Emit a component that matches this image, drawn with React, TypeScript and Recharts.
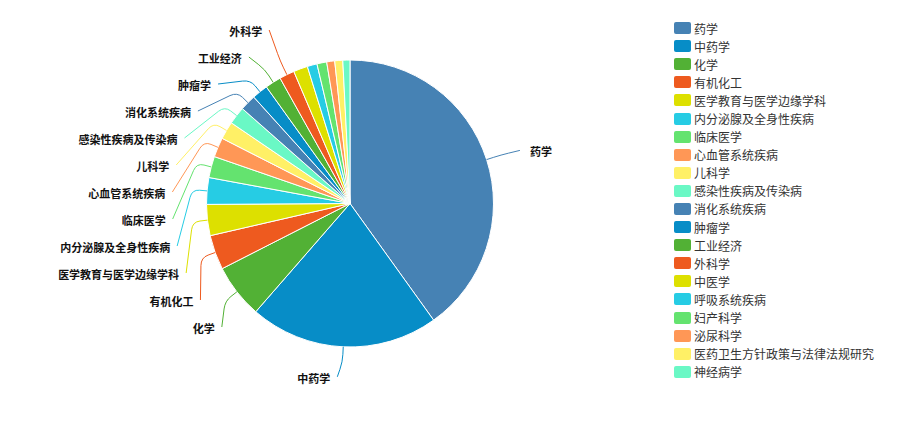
import { PieChart, Pie, Cell, Legend } from "recharts";

const subjects = [
    "药学", "中药学", "化学", "有机化工", "医学教育与医学边缘学科",
    "内分泌腺及全身性疾病", "临床医学", "心血管系统疾病", "儿科学", "感染性疾病及传染病",
    "消化系统疾病", "肿瘤学", "工业经济", "外科学", "中医学",
    "呼吸系统疾病", "妇产科学", "泌尿科学", "医药卫生方针政策与法律法规研究", "神经病学",
];
const counts = [401, 213, 61, 39, 35, 30, 24, 22, 20, 20, 18, 18, 18, 17, 16, 11, 11, 9, 9, 8];
const palette = ["#4682b4", "#078dc7", "#52b135", "#ee5a1f", "#dde000", "#26cce4", "#64e36f", "#ff9756", "#fff066", "#6af8c5"];

const data = subjects.map((name, i) => ({ name, value: counts[i] }));

const FONT = "'Noto Sans CJK SC', 'Noto Sans', sans-serif";
const CX = 350;
const CY = 203.5;
const OUTER = 143.5;
const LINE_LEN = 15;      // first leg of the label line
const LABEL_LEN = 30;     // ring where labels sit naturally
const LABEL_LEN2 = 4.5;
const LABEL_GAP = 27;
const LABEL_TOP = 30;
const MIN_LABEL_ANGLE = 6;
const RAD = Math.PI / 180;

type Placed = { show: boolean; side: number; nx: number; x: number; y: number };

// echarts-like label placement: stack crowded labels, then slide them along a ring
function layoutLabels(): Placed[] {
    const total = counts.reduce((a, b) => a + b, 0);
    const ring = OUTER + LABEL_LEN;
    let acc = 0;
    const items: Placed[] = counts.map((v) => {
        const sweep = (v / total) * 360;
        const mid = ((acc + v / 2) / total) * 360;
        acc += v;
        const s = Math.sin(mid * RAD);
        const c = Math.cos(mid * RAD);
        return { show: sweep >= MIN_LABEL_ANGLE, side: s < 0 ? -1 : 1, nx: CX + ring * s, x: 0, y: CY - ring * c };
    });
    for (const side of [-1, 1]) {
        const all = items.filter((it) => it.side === side);
        const list = all.filter((it) => it.show).sort((a, b) => a.y - b.y);
        const crowded = list.length < all.length;
        let last = -Infinity;
        list.forEach((it, k) => {
            it.y = k === 0 && crowded ? LABEL_TOP : Math.max(it.y, last + LABEL_GAP);
            last = it.y;
            const dy = Math.abs(it.y - CY);
            const arc = ring + LABEL_LEN2;
            const dx = dy < OUTER + LINE_LEN
                ? Math.sqrt(arc * arc - dy * dy)
                : Math.abs(it.nx - CX) + LABEL_LEN2;
            it.x = CX + side * dx;
        });
    }
    return items;
}

const placed = layoutLabels();

const polar = (cx: number, cy: number, r: number, angle: number) => ({
    x: cx + r * Math.cos(-angle * RAD),
    y: cy + r * Math.sin(-angle * RAD),
});

const toward = (from: { x: number; y: number }, to: { x: number; y: number }, d: number) => {
    const len = Math.hypot(to.x - from.x, to.y - from.y) || 1;
    const k = Math.min(d, len * 0.5) / len;
    return { x: from.x + (to.x - from.x) * k, y: from.y + (to.y - from.y) * k };
};

const renderLabel = (props: any) => {
    const { index, cx, cy, midAngle, outerRadius } = props;
    const p = placed[index];
    if (!p || !p.show) return null;
    const color = palette[index % palette.length];
    const p0 = polar(cx, cy, outerRadius, midAngle);
    const p1 = polar(cx, cy, outerRadius + LINE_LEN, midAngle);
    const p2 = { x: p.x, y: p.y };
    const a = toward(p1, p0, 8);
    const b = toward(p1, p2, 8);
    const d = `M${p0.x},${p0.y}L${a.x},${a.y}Q${p1.x},${p1.y} ${b.x},${b.y}L${p2.x},${p2.y}`;
    const left = p.side < 0;
    return (
        <g>
            <path d={d} stroke={color} strokeWidth={1} fill="none" />
            <text
                x={left ? p2.x - 7 : p2.x + 10}
                y={p2.y + 1}
                textAnchor={left ? "end" : "start"}
                dominantBaseline="central"
                fontSize={11}
                fontWeight="bold"
                fontFamily={FONT}
                fill="#111"
            >
                {props.name}
            </text>
        </g>
    );
};

const LegendList = ({ payload }: any) => (
    <ul style={{ listStyle: "none", margin: 0, padding: 0 }}>
        {(payload ?? []).map((entry: any) => {
            const i = subjects.indexOf(entry.value);
            return (
                <li key={entry.value} style={{ display: "flex", alignItems: "center", height: 18.1 }}>
                    <span style={{ display: "inline-block", width: 17, height: 12, borderRadius: 2, background: palette[i % palette.length] }} />
                    <span style={{ marginLeft: 3, fontSize: 12, fontFamily: FONT, color: "#333", whiteSpace: "nowrap" }}>{entry.value}</span>
                </li>
            );
        })}
    </ul>
);

export default function App() {
    return (
        <div style={{ position: "absolute", left: 0, top: 0, width: 899, height: 421, background: "#fff" }}>
            <PieChart width={899} height={421} margin={{ top: 0, right: 0, bottom: 0, left: 0 }}>
                <Pie
                    data={data}
                    dataKey="value"
                    nameKey="name"
                    cx={CX}
                    cy={CY}
                    outerRadius={OUTER}
                    startAngle={90}
                    endAngle={-270}
                    stroke="#fff"
                    strokeWidth={1}
                    label={renderLabel}
                    labelLine={false}
                    isAnimationActive={false}
                >
                    {data.map((_, i) => (
                        <Cell key={i} fill={palette[i % palette.length]} />
                    ))}
                </Pie>
                <Legend
                    layout="vertical"
                    align="right"
                    verticalAlign="top"
                    itemSorter={(item: any) => subjects.indexOf(item.value)}
                    content={<LegendList />}
                    wrapperStyle={{ left: 674, top: 19, right: "auto", width: 220 }}
                />
            </PieChart>
        </div>
    );
}
